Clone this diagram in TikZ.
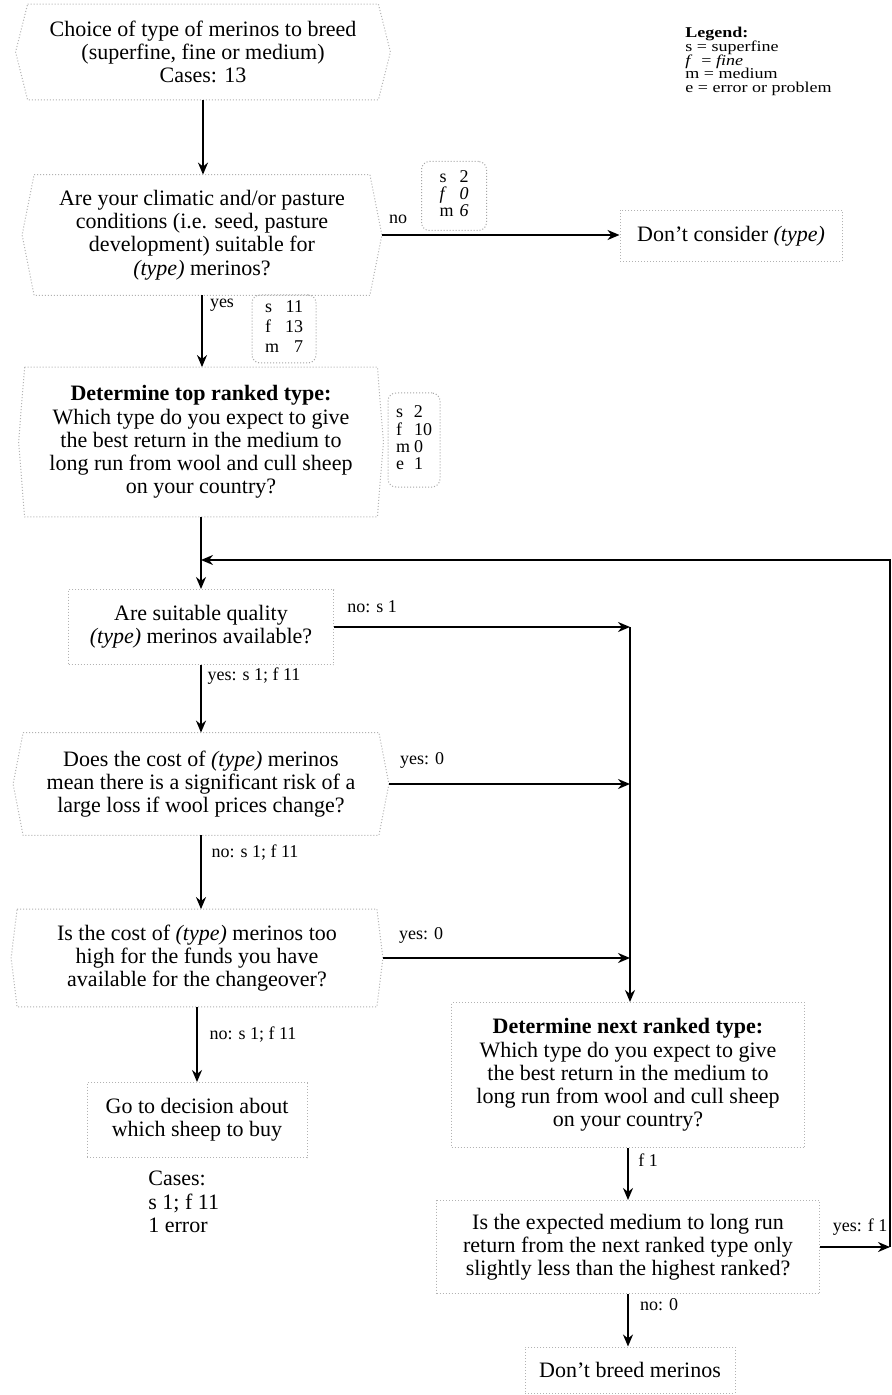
\documentclass[tikz,border=0pt]{standalone}
\usepackage{fontspec}
\setmainfont{Liberation Serif}
\newfontfamily\legendfont{Liberation Serif}[FakeStretch=1.2]
\usetikzlibrary{arrows.meta,calc}
\newcommand\tightls{\lineskiplimit=-6pt\relax}
\newcommand\hexdraw[2]{\draw[boxline] (#1.north west) -- (#1.north east) -- ([xshift=#2]#1.east) coordinate (#1-E) -- (#1.south east) -- (#1.south west) -- ([xshift=-#2]#1.west) coordinate (#1-W) -- cycle;}
\begin{document}
\begin{tikzpicture}[x=0.5pt,y=-0.5pt,
  txt/.style={font=\fontsize{11}{11.6}\selectfont\tightls, align=center, inner sep=0pt},
  boxline/.style={draw=gray!60, densely dotted, line width=0.5pt},
  rbox/.style={txt, boxline},
  hbox/.style={txt},
  cnt/.style={font=\fontsize{9}{8.5}\selectfont, draw=gray!70, densely dotted, rounded corners=4pt, line width=0.5pt, inner sep=0pt},
  lbl/.style={font=\fontsize{9}{10}\selectfont, inner sep=0pt},
  arr/.style={draw=black, line width=0.9pt, -{Stealth[length=6pt,width=5pt]}},
]
\useasboundingbox (0,0) rectangle (892,1395);
\fill[white] (0,0) rectangle (892,1395);

% main boxes
\node[hbox, minimum width=175pt, minimum height=47.5pt] (c1) at (203,52)
  {Choice of type of merinos to breed\\(superfine, fine or medium)\\Cases: 13};
\hexdraw{c1}{6pt}

\node[hbox, minimum width=167.5pt, minimum height=60pt] (c2) at (202,235)
  {Are your climatic and/or pasture\\conditions (i.e. seed, pasture\\development) suitable for\\\textit{(type)} merinos?};
\hexdraw{c2}{6pt}

\node[hbox, minimum width=176pt, minimum height=74.5pt] (c3) at (201,442)
  {\textbf{Determine top ranked type:}\\Which type do you expect to give\\the best return in the medium to\\long run from wool and cull sheep\\on your country?};
\hexdraw{c3}{3pt}

\node[rbox, minimum width=132.5pt, minimum height=37.5pt] (c4) at (201,627)
  {Are suitable quality\\\textit{(type)} merinos available?};

\node[hbox, minimum width=177.5pt, minimum height=51pt] (c5) at (201,784)
  {Does the cost of \textit{(type)} merinos\\mean there is a significant risk of a\\large loss if wool prices change?};
\hexdraw{c5}{5pt}

\node[hbox, minimum width=179.5pt, minimum height=48.5pt] (c6) at (197,958)
  {Is the cost of \textit{(type)} merinos too\\high for the funds you have\\available for the changeover?};
\hexdraw{c6}{3pt}

\node[rbox, minimum width=110pt, minimum height=37.5pt] (c7) at (197,1120)
  {Go to decision about\\which sheep to buy};

\node[txt, align=left, anchor=north west] (cs) at (148,1171)
  {Cases:\\s 1; f 11\\1 error};

\node[rbox, minimum width=176.5pt, minimum height=72.5pt] (c8) at (628,1075)
  {\textbf{Determine next ranked type:}\\Which type do you expect to give\\the best return in the medium to\\long run from wool and cull sheep\\on your country?};

\node[rbox, minimum width=191.5pt, minimum height=46.5pt] (c9) at (628,1247)
  {Is the expected medium to long run\\return from the next ranked type only\\slightly less than the highest ranked?};

\node[rbox, minimum width=105pt, minimum height=23pt] (c10) at (630,1370)
  {Don't breed merinos};

\node[rbox, minimum width=111pt, minimum height=25.5pt] (dc) at (731,236)
  {Don't consider \textit{(type)}};

% legend
\node[anchor=north west, align=left, inner sep=0pt, font=\legendfont\fontsize{7.5}{6.8}\selectfont\tightls] (leg) at (685,27)
  {\textbf{Legend:}\\s = superfine\\\textit{f} \ = \textit{fine}\\m = medium\\e = error or problem};

% count boxes
\node[cnt, minimum width=32.5pt, minimum height=34.5pt] (k1) at (454,196)
  {\begin{tabular}{@{}l@{\hspace{3pt}}l@{}}s&2\\ \textit{f}&\textit{0}\\ m&\textit{6}\end{tabular}};
\node[cnt, minimum width=32pt, minimum height=34pt, font=\fontsize{9}{10}\selectfont] (k2) at (284,329)
  {\begin{tabular}{@{}l@{\hspace{3pt}}r@{}}s&11\\ f&13\\ m&7\end{tabular}};
\node[cnt, minimum width=26pt, minimum height=47pt] (k3) at (414,440)
  {\begin{tabular}{@{}l@{\hspace{2pt}}l@{}}s&2\\ f&10\\ m&0\\ e&1\end{tabular}};

% labels
\node[lbl] (l1) at (398,219) {no};
\node[lbl] (l2) at (222,305) {yes};
\node[lbl] (l3) at (372,607) {no: s 1};
\node[lbl] (l4) at (254,676) {yes: s 1; f 11};
\node[lbl] (l5) at (422,760) {yes: 0};
\node[lbl] (l6) at (255,853) {no: s 1; f 11};
\node[lbl] (l7) at (421,935) {yes: 0};
\node[lbl] (l8) at (253,1035) {no: s 1; f 11};
\node[lbl] (l9) at (648,1160) {f 1};
\node[lbl] (l10) at (860,1227) {yes: f 1};
\node[lbl] (l11) at (659,1305) {no: 0};

% coordinates
\coordinate (J1) at (c3.south |- 0,560);
\coordinate (R2) at (890,560);
\coordinate (R1) at (890,1247);
\coordinate (M1) at (c4.east -| 630,0);

% connectors
\draw[arr] (c1.south) -- (c1.south |- c2.north);
\draw[arr] (c2-E) -- (c2-E -| dc.west);
\draw[arr] (c2.south) -- (c2.south |- c3.north);
\draw[arr] (c3.south) -- (c3.south |- c4.north);
\draw[arr] (c4.south) -- (c4.south |- c5.north);
\draw[arr] (c5.south) -- (c5.south |- c6.north);
\draw[arr] (c6.south) -- (c6.south |- c7.north);
\draw[arr] (c4.east) -- (M1);
\draw[arr] (M1) -- (M1 |- c8.north);
\draw[arr] (c5-E) -- (c5-E -| M1);
\draw[arr] (c6-E) -- (c6-E -| M1);
\draw[arr] (c8.south) -- (c8.south |- c9.north);
\draw[arr] (c9.south) -- (c9.south |- c10.north);
\draw[arr] (c9.east) -- (c9.east -| R1);
\draw[arr] (c9.east -| R1) -- (R2) -- (J1);
\end{tikzpicture}
\end{document}
